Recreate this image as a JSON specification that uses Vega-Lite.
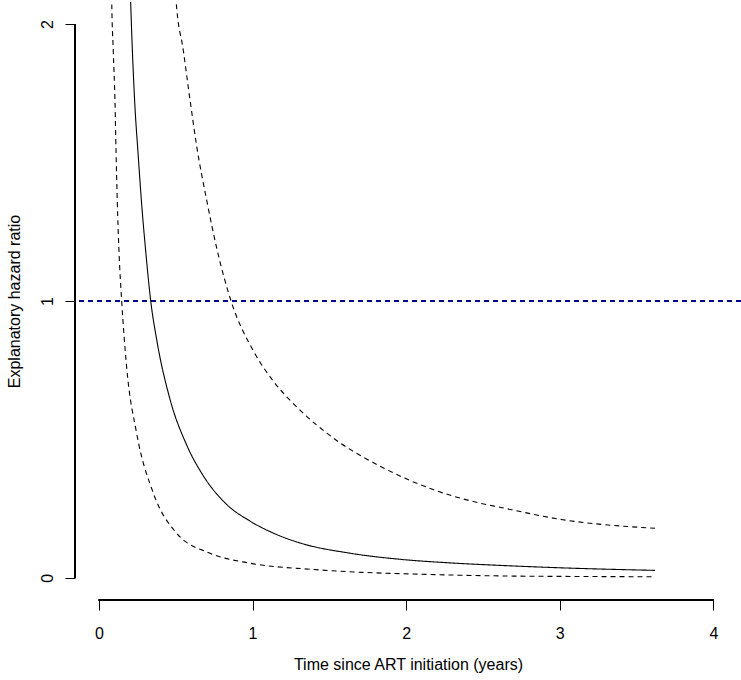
{
  "$schema": "https://vega.github.io/schema/vega-lite/v6.json",
  "width": 666,
  "height": 598,
  "autosize": {"type": "none"},
  "padding": {"left": 75, "top": 2, "right": 0, "bottom": 80},
  "background": "white",
  "config": {
    "view": {"stroke": null},
    "font": "Liberation Sans",
    "axis": {
      "grid": false,
      "domain": false,
      "tickColor": "black",
      "tickWidth": 1,
      "tickSize": 10,
      "labelColor": "black",
      "labelFontSize": 16,
      "labelFont": "Liberation Sans",
      "labelOverlap": false,
      "labelFlush": false,
      "format": "d",
      "titleFont": "Liberation Sans",
      "titleFontSize": 16,
      "titleFontWeight": "normal",
      "titleColor": "black"
    }
  },
  "data": {
    "values": [
      {"s": "est", "t": 0.195, "y": 2.3},
      {"s": "est", "t": 0.206, "y": 2.087},
      {"s": "est", "t": 0.232, "y": 1.726},
      {"s": "est", "t": 0.255, "y": 1.53},
      {"s": "est", "t": 0.278, "y": 1.35},
      {"s": "est", "t": 0.306, "y": 1.17},
      {"s": "est", "t": 0.337, "y": 1.0},
      {"s": "est", "t": 0.376, "y": 0.86},
      {"s": "est", "t": 0.4625, "y": 0.645},
      {"s": "est", "t": 0.571, "y": 0.48},
      {"s": "est", "t": 0.68, "y": 0.368},
      {"s": "est", "t": 0.832, "y": 0.265},
      {"s": "est", "t": 0.984, "y": 0.205},
      {"s": "est", "t": 1.15, "y": 0.158},
      {"s": "est", "t": 1.309, "y": 0.126},
      {"s": "est", "t": 1.635, "y": 0.089},
      {"s": "est", "t": 1.961, "y": 0.067},
      {"s": "est", "t": 2.287, "y": 0.054},
      {"s": "est", "t": 2.612, "y": 0.045},
      {"s": "est", "t": 3.02, "y": 0.036},
      {"s": "est", "t": 3.62, "y": 0.027},
      {"s": "lower", "t": 0.079, "y": 2.3},
      {"s": "lower", "t": 0.083, "y": 2.087},
      {"s": "lower", "t": 0.093, "y": 1.906},
      {"s": "lower", "t": 0.104, "y": 1.726},
      {"s": "lower", "t": 0.111, "y": 1.545},
      {"s": "lower", "t": 0.119, "y": 1.365},
      {"s": "lower", "t": 0.13, "y": 1.184},
      {"s": "lower", "t": 0.148, "y": 1.0},
      {"s": "lower", "t": 0.18, "y": 0.763},
      {"s": "lower", "t": 0.245, "y": 0.523},
      {"s": "lower", "t": 0.354, "y": 0.306},
      {"s": "lower", "t": 0.506, "y": 0.161},
      {"s": "lower", "t": 0.723, "y": 0.089},
      {"s": "lower", "t": 0.984, "y": 0.053},
      {"s": "lower", "t": 1.375, "y": 0.031},
      {"s": "lower", "t": 1.635, "y": 0.022},
      {"s": "lower", "t": 2.1, "y": 0.013},
      {"s": "lower", "t": 2.61, "y": 0.007},
      {"s": "lower", "t": 3.1, "y": 0.005},
      {"s": "lower", "t": 3.62, "y": 0.004},
      {"s": "upper", "t": 0.49, "y": 2.3},
      {"s": "upper", "t": 0.502, "y": 2.087},
      {"s": "upper", "t": 0.549, "y": 1.906},
      {"s": "upper", "t": 0.593, "y": 1.726},
      {"s": "upper", "t": 0.636, "y": 1.56},
      {"s": "upper", "t": 0.701, "y": 1.365},
      {"s": "upper", "t": 0.767, "y": 1.19},
      {"s": "upper", "t": 0.86, "y": 1.0},
      {"s": "upper", "t": 1.005, "y": 0.82},
      {"s": "upper", "t": 1.136, "y": 0.71},
      {"s": "upper", "t": 1.309, "y": 0.606},
      {"s": "upper", "t": 1.526, "y": 0.505},
      {"s": "upper", "t": 1.852, "y": 0.397},
      {"s": "upper", "t": 2.18, "y": 0.318},
      {"s": "upper", "t": 2.48, "y": 0.27},
      {"s": "upper", "t": 2.61, "y": 0.255},
      {"s": "upper", "t": 3.02, "y": 0.21},
      {"s": "upper", "t": 3.62, "y": 0.179}
    ]
  },
  "layer": [
    {
      "mark": {"type": "rule", "color": "#00008b", "strokeWidth": 1, "strokeDash": [5, 4]},
      "encoding": {"y": {"datum": 1, "type": "quantitative"}}
    },
    {
      "mark": {"type": "line", "color": "black", "strokeWidth": 1.1, "clip": true, "interpolate": "monotone"},
      "encoding": {
        "x": {
          "field": "t",
          "type": "quantitative",
          "scale": {"domain": [-0.156, 4.18], "nice": false, "zero": false},
          "axis": {
            "values": [0, 1, 2, 3, 4],
            "title": "Time since ART initiation (years)",
            "labelPadding": 15,
            "labelBaseline": "top",
            "titleX": 333,
            "titleY": 64,
            "titleAlign": "center",
            "titleBaseline": "middle"
          }
        },
        "y": {
          "field": "y",
          "type": "quantitative",
          "scale": {"domain": [-0.08, 2.08], "nice": false, "zero": false},
          "axis": {
            "values": [0, 1, 2],
            "title": "Explanatory hazard ratio",
            "labelAngle": -90,
            "labelAlign": "center",
            "labelBaseline": "middle",
            "labelPadding": 18,
            "titleX": -61,
            "titleY": 299,
            "titleAngle": -90,
            "titleAlign": "center",
            "titleBaseline": "middle"
          }
        },
        "strokeDash": {
          "field": "s",
          "type": "nominal",
          "scale": {"domain": ["est", "lower", "upper"], "range": [[1, 0], [5, 4], [5, 4]]},
          "legend": null
        }
      }
    },
    {
      "mark": {"type": "rule", "color": "black", "strokeWidth": 1},
      "encoding": {
        "x": {"datum": 0, "type": "quantitative"},
        "x2": {"datum": 4},
        "y": {"datum": -0.08, "type": "quantitative"}
      }
    },
    {
      "mark": {"type": "rule", "color": "black", "strokeWidth": 1},
      "encoding": {
        "x": {"datum": -0.156, "type": "quantitative"},
        "y": {"datum": 0, "type": "quantitative"},
        "y2": {"datum": 2}
      }
    }
  ]
}
